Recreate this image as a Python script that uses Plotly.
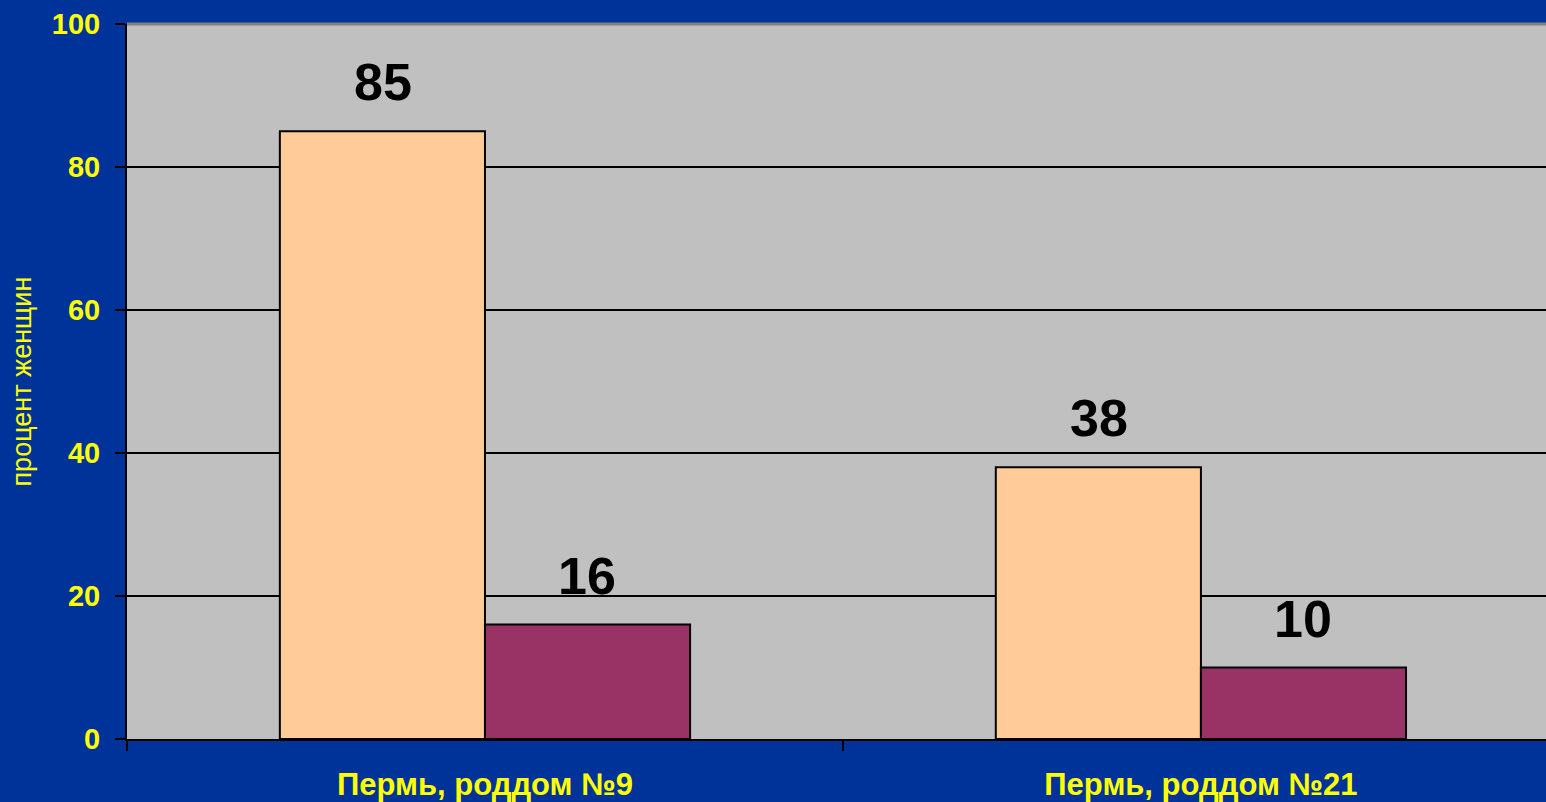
import plotly.graph_objects as go

categories = ["Пермь, роддом №9", "Пермь, роддом №21"]
series_a = [85, 38]
series_b = [16, 10]
y_ticks = [0, 20, 40, 60, 80, 100]
y_title = "процент женщин"

FONT = "Arial, 'Liberation Sans', sans-serif"
YELLOW = "#FFFF00"

fig = go.Figure()
fig.add_trace(go.Bar(x=categories, y=series_a, marker=dict(color="#FFCC99", line=dict(color="black", width=2)),
                     showlegend=False, hoverinfo="skip"))
fig.add_trace(go.Bar(x=categories, y=series_b, marker=dict(color="#993366", line=dict(color="black", width=2)),
                     showlegend=False, hoverinfo="skip"))

# value labels above bars
offsets = [-0.143, 0.143]
for vals, off in zip([series_a, series_b], offsets):
    for i, v in enumerate(vals):
        fig.add_annotation(x=i + off, y=v, text=f"<b>{v}</b>", showarrow=False, yanchor="bottom",
                           yshift=18, font=dict(family=FONT, size=52, color="black"), xref="x2", yref="y")

fig.update_layout(
    width=1546, height=802,
    margin=dict(l=127, r=0, t=24, b=63),
    paper_bgcolor="#003399",
    plot_bgcolor="#C0C0C0",
    barmode="group",
    bargap=0.427,
    bargroupgap=0,
    xaxis=dict(
        type="category", range=[-0.5, 1.482], tickson="boundaries",
        ticks="outside", ticklen=10, tickwidth=2, tickcolor="black",
        showgrid=False, showline=True, linecolor="black", linewidth=2,
        tickfont=dict(family=FONT, size=31, color=YELLOW, weight="bold"),
        zeroline=False, ticklabelstandoff=17,
    ),
    xaxis2=dict(range=[-0.5, 1.482], overlaying="x", visible=False, showgrid=False, zeroline=False),
    yaxis=dict(
        range=[0, 100], tickvals=y_ticks, ticks="outside", ticklen=10, tickwidth=2, tickcolor="black",
        showgrid=True, gridcolor="black", gridwidth=2,
        showline=True, linecolor="black", linewidth=2, zeroline=False,
        tickfont=dict(family=FONT, size=29, color=YELLOW, weight="bold"),
        ticklabelstandoff=9,
    ),
)

fig.add_shape(type="line", xref="paper", yref="paper", x0=0, x1=1, y0=1, y1=1,
              line=dict(color="#808080", width=3))

fig.add_annotation(text=y_title, xref="paper", yref="paper", x=0, y=0.5, xanchor="center", yanchor="middle",
                   xshift=-106, textangle=-90, showarrow=False,
                   font=dict(family=FONT, size=27, color=YELLOW))

fig.write_html("out.html",
               config={"displayModeBar": False},
               post_script="document.body.style.margin='0';document.body.style.padding='0';"
                           "document.body.style.background='#003399';document.body.style.overflow='hidden';")
